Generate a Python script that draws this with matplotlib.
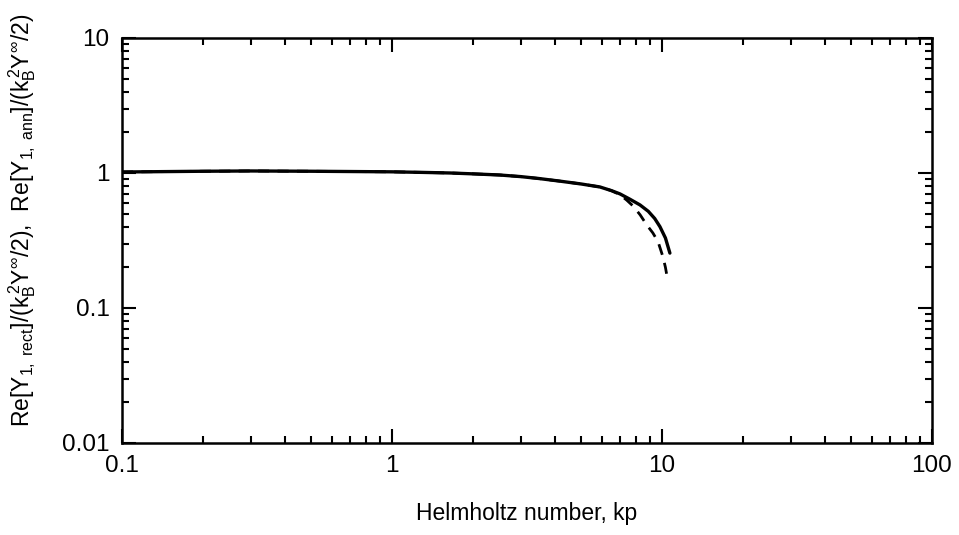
import matplotlib
matplotlib.use('Agg')
import matplotlib.pyplot as plt

plt.rcParams['font.family'] = ['Liberation Sans', 'DejaVu Sans']
plt.rcParams['mathtext.fontset'] = 'custom'
plt.rcParams['mathtext.rm'] = 'Liberation Sans'
plt.rcParams['mathtext.it'] = 'Liberation Sans'
plt.rcParams['mathtext.sf'] = 'Liberation Sans'

# Helmholtz number kp and normalized conductance
kp_rect = [0.1, 0.2, 0.3, 0.5, 1.0, 1.3, 1.64, 2.0, 2.51, 3.0, 3.5, 4.19, 5.0,
           5.89, 6.5, 6.99, 7.6, 8.29, 8.9, 9.4, 9.83, 10.3, 10.7]
y_rect = [1.017, 1.03, 1.035, 1.03, 1.02, 1.01, 1.0, 0.985, 0.966, 0.94, 0.91,
          0.87, 0.83, 0.788, 0.74, 0.70, 0.64, 0.58, 0.52, 0.46, 0.40, 0.33, 0.255]

kp_ann = [0.1, 0.2, 0.3, 0.5, 1.0, 1.3, 1.64, 2.0, 2.51, 3.0, 3.5, 4.19, 5.0,
          5.89, 6.5, 6.99, 7.4, 7.81, 8.3, 8.80, 9.25, 9.67, 10.08, 10.3, 10.53]
y_ann = [1.017, 1.03, 1.035, 1.03, 1.02, 1.01, 1.0, 0.985, 0.966, 0.94, 0.91,
         0.87, 0.83, 0.788, 0.74, 0.69, 0.63, 0.57, 0.49, 0.41, 0.36, 0.31, 0.24, 0.20, 0.156]

fig = plt.figure(figsize=(9.59, 5.35), dpi=100)
ax = fig.add_axes([0.1272, 0.172, 0.8446, 0.757])

ax.plot(kp_rect, y_rect, color='black', lw=2.4, solid_capstyle='round')
ax.plot(kp_ann, y_ann, color='black', lw=2.0, dashes=(4, 3))

ax.set_xscale('log')
ax.set_yscale('log')
ax.set_xlim(0.1, 100)
ax.set_ylim(0.01, 10)
ax.set_xticks([0.1, 1, 10, 100])
ax.set_xticklabels(['0.1', '1', '10', '100'])
ax.set_yticks([0.01, 0.1, 1, 10])
ax.set_yticklabels(['0.01', '0.1', '1', '10'])

ax.tick_params(which='both', direction='in', top=True, right=True, labelsize=17.5, width=1.5)
ax.tick_params(which='major', length=10, pad=9)
ax.tick_params(which='minor', length=5)
for s in ax.spines.values():
    s.set_linewidth(1.8)

ax.set_xlabel('Helmholtz number, kp', fontsize=16.5, labelpad=18)
ax.set_ylabel(r'Re[Y$_{1,\ \mathrm{rect}}$]/(k$_\mathrm{B}^{\,2}$Y$^{\infty}$/2),  '
              r'Re[Y$_{1,\ \mathrm{ann}}$]/(k$_\mathrm{B}^{\,2}$Y$^{\infty}$/2)',
              fontsize=16.5)
ax.yaxis.set_label_coords(-0.104, 0.55)

fig.savefig('out.png', dpi=100)
